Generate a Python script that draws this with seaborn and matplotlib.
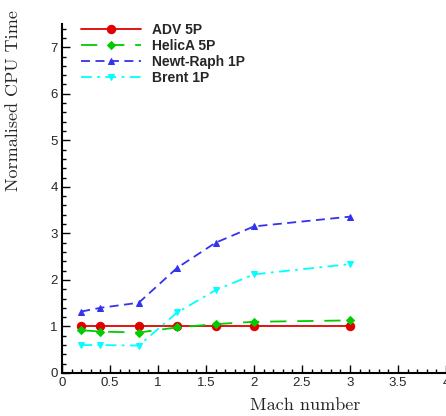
import matplotlib
matplotlib.use("Agg")
import matplotlib.pyplot as plt
from matplotlib.ticker import MultipleLocator
import seaborn as sns
import pandas as pd

mach = [0.2, 0.4, 0.8, 1.2, 1.6, 2.0, 3.0]
adv_5p = [1.0, 1.0, 1.0, 1.0, 1.0, 1.0, 1.0]
helica_5p = [0.92, 0.89, 0.87, 0.98, 1.05, 1.10, 1.13]
newt_raph_1p = [1.32, 1.40, 1.51, 2.26, 2.80, 3.15, 3.36]
brent_1p = [0.60, 0.60, 0.59, 1.30, 1.78, 2.12, 2.34]

series_names = ["ADV 5P", "HelicA 5P", "Newt-Raph 1P", "Brent 1P"]
series_values = [adv_5p, helica_5p, newt_raph_1p, brent_1p]
colors = ["#e00000", "#00cc00", "#3333ee", "#00ffff"]
markers = ["o", "D", "^", "v"]
msizes = [6, 4.5, 5, 5]
dashes = [(None), (9, 6), (5, 3), (6, 3, 1.5, 3)]

sns.set_style("ticks")
plt.rcParams["font.family"] = ["Liberation Sans", "DejaVu Sans"]

fig = plt.figure(figsize=(4.46, 4.16), dpi=100)
ax = fig.add_axes([0.139, 0.1034, 0.861, 0.8389])

for name, vals, c, m, ms, d in zip(series_names, series_values, colors, markers, msizes, dashes):
    df = pd.DataFrame({"Mach": mach, "CPU": vals})
    kw = dict(x="Mach", y="CPU", data=df, ax=ax, color=c, marker=m, markersize=ms,
              markeredgecolor=c, linewidth=1.3, label=name, sort=False, estimator=None)
    line = sns.lineplot(**kw).lines[-1]
    if d is not None:
        line.set_dashes(d)

ax.set_xlim(0, 4)
ax.set_ylim(0, 7.5)
ax.xaxis.set_major_locator(MultipleLocator(0.5))
ax.xaxis.set_minor_locator(MultipleLocator(0.1))
ax.yaxis.set_major_locator(MultipleLocator(1))
ax.yaxis.set_minor_locator(MultipleLocator(0.2))
ax.set_xticks([0, 0.5, 1, 1.5, 2, 2.5, 3, 3.5, 4])
ax.set_xticklabels(["0", "0.5", "1", "1.5", "2", "2.5", "3", "3.5", "4"])
ax.tick_params(which="both", direction="in", color="black", width=1, labelsize=9.5)
ax.tick_params(which="major", length=6, pad=3)
ax.tick_params(which="minor", length=3)
for s in ["top", "right"]:
    ax.spines[s].set_visible(False)
for s in ["left", "bottom"]:
    ax.spines[s].set_linewidth(1.5)
    ax.spines[s].set_color("black")

ax.set_xlabel("Mach number", fontfamily="cmr10", fontsize=13)
ax.xaxis.set_label_coords(0.633, -0.072)
ax.set_ylabel("Normalised CPU Time", fontfamily="cmr10", fontsize=13)
ax.yaxis.set_label_coords(-0.106, 0.782)

leg = ax.legend(loc="upper left", bbox_to_anchor=(0.018, 1.04), frameon=False,
                handlelength=4.3, numpoints=1, labelspacing=0.15, handletextpad=0.75,
                prop={"family": "Liberation Sans", "weight": "bold", "size": 10})

fig.savefig("out.png", dpi=100)
